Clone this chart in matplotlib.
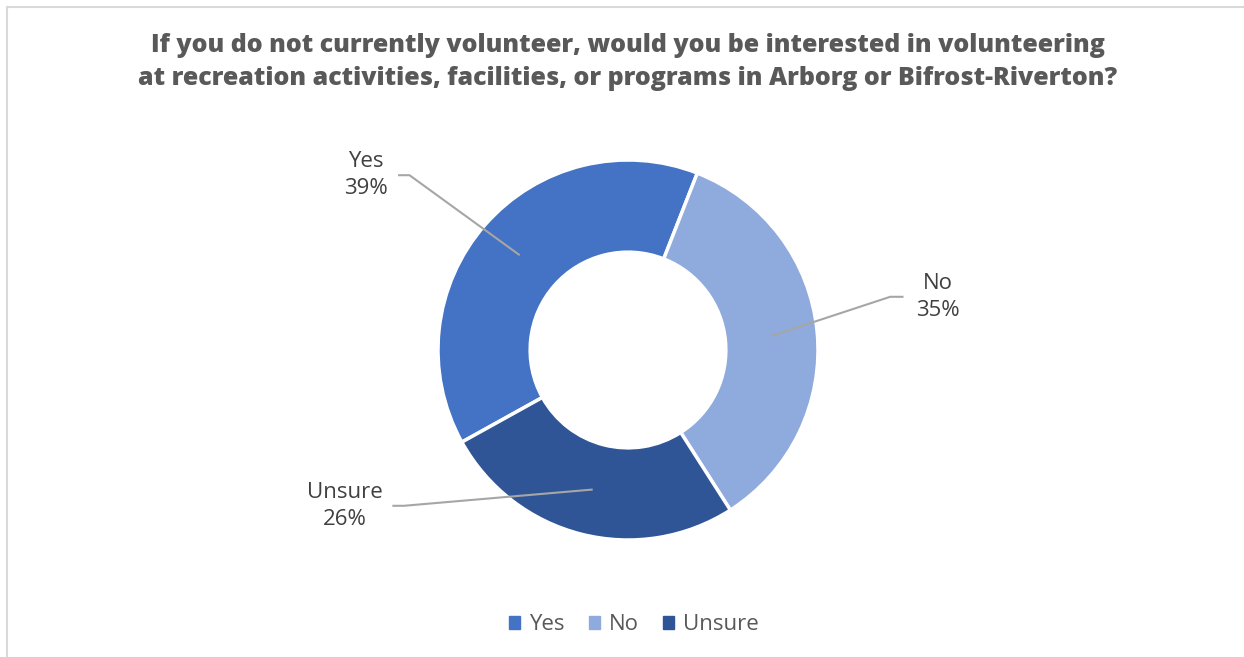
import matplotlib.pyplot as plt
import matplotlib.patches as mpatches
import numpy as np

# data
categories = ['Yes', 'No', 'Unsure']
shares = [39, 35, 26]
colors = ['#4472C4', '#8FAADC', '#2F5597']
title = ('If you do not currently volunteer, would you be interested in volunteering\n'
         'at recreation activities, facilities, or programs in Arborg or Bifrost-Riverton?')

# label placement (data units, radius = 1)
label_pos = {'Yes': (-1.38, 0.92), 'No': (1.63, 0.28), 'Unsure': (-1.49, -0.82)}

W, H = 1244, 657
fig = plt.figure(figsize=(W / 100, H / 100), dpi=100)

# light frame round the chart area
fig.patches.append(mpatches.Rectangle((7 / W, -0.1), 1.2, (H - 7) / H + 0.1,
                                      transform=fig.transFigure, fill=False,
                                      edgecolor='#D9D9D9', linewidth=1.5))

fig.text(628 / W, 1 - 62 / H, title, ha='center', va='center', fontsize=18,
         family='Open Sans', weight='heavy', color='#595959', linespacing=1.45)

# donut axes: centre (628, 350) px, radius 190 px
r_px = 190
ax = fig.add_axes([(628 - r_px) / W, (H - 350 - r_px) / H, 2 * r_px / W, 2 * r_px / H])

hole = 0.515
wedges, _ = ax.pie(shares, colors=colors, startangle=209, counterclock=False, radius=1,
                   wedgeprops=dict(width=1 - hole, edgecolor='white', linewidth=2.5))
ax.set_xlim(-1, 1)
ax.set_ylim(-1, 1)
ax.set_aspect('equal')
ax.axis('off')

for w, cat, val in zip(wedges, categories, shares):
    mid = np.deg2rad((w.theta1 + w.theta2) / 2)
    rm = (1 + hole) / 2
    px, py = rm * np.cos(mid), rm * np.sin(mid)
    lx, ly = label_pos[cat]
    if lx < 0:
        start = lx + 0.17 if cat == 'Yes' else lx + 0.25
        elbow = start + 0.06
    else:
        start = lx - 0.18
        elbow = start - 0.07
    ax.plot([start, elbow, px], [ly, ly, py], color='#A6A6A6', linewidth=1.5,
            clip_on=False, zorder=3, solid_capstyle='butt')
    ax.text(lx, ly, f'{cat}\n{val}%', ha='center', va='center', fontsize=16,
            family='Open Sans', color='#404040', linespacing=1.4, clip_on=False)

handles = [mpatches.Patch(color=c, label=l) for c, l in zip(colors, categories)]
fig.legend(handles=handles, loc='center', bbox_to_anchor=(634 / W, 1 - 625 / H), ncol=3,
           frameon=False, handlelength=0.5, handleheight=0.5, handletextpad=0.4,
           columnspacing=1.1, prop=dict(family='Open Sans', size=16), labelcolor='#595959')

fig.savefig('out.png', dpi=100, facecolor='white')
